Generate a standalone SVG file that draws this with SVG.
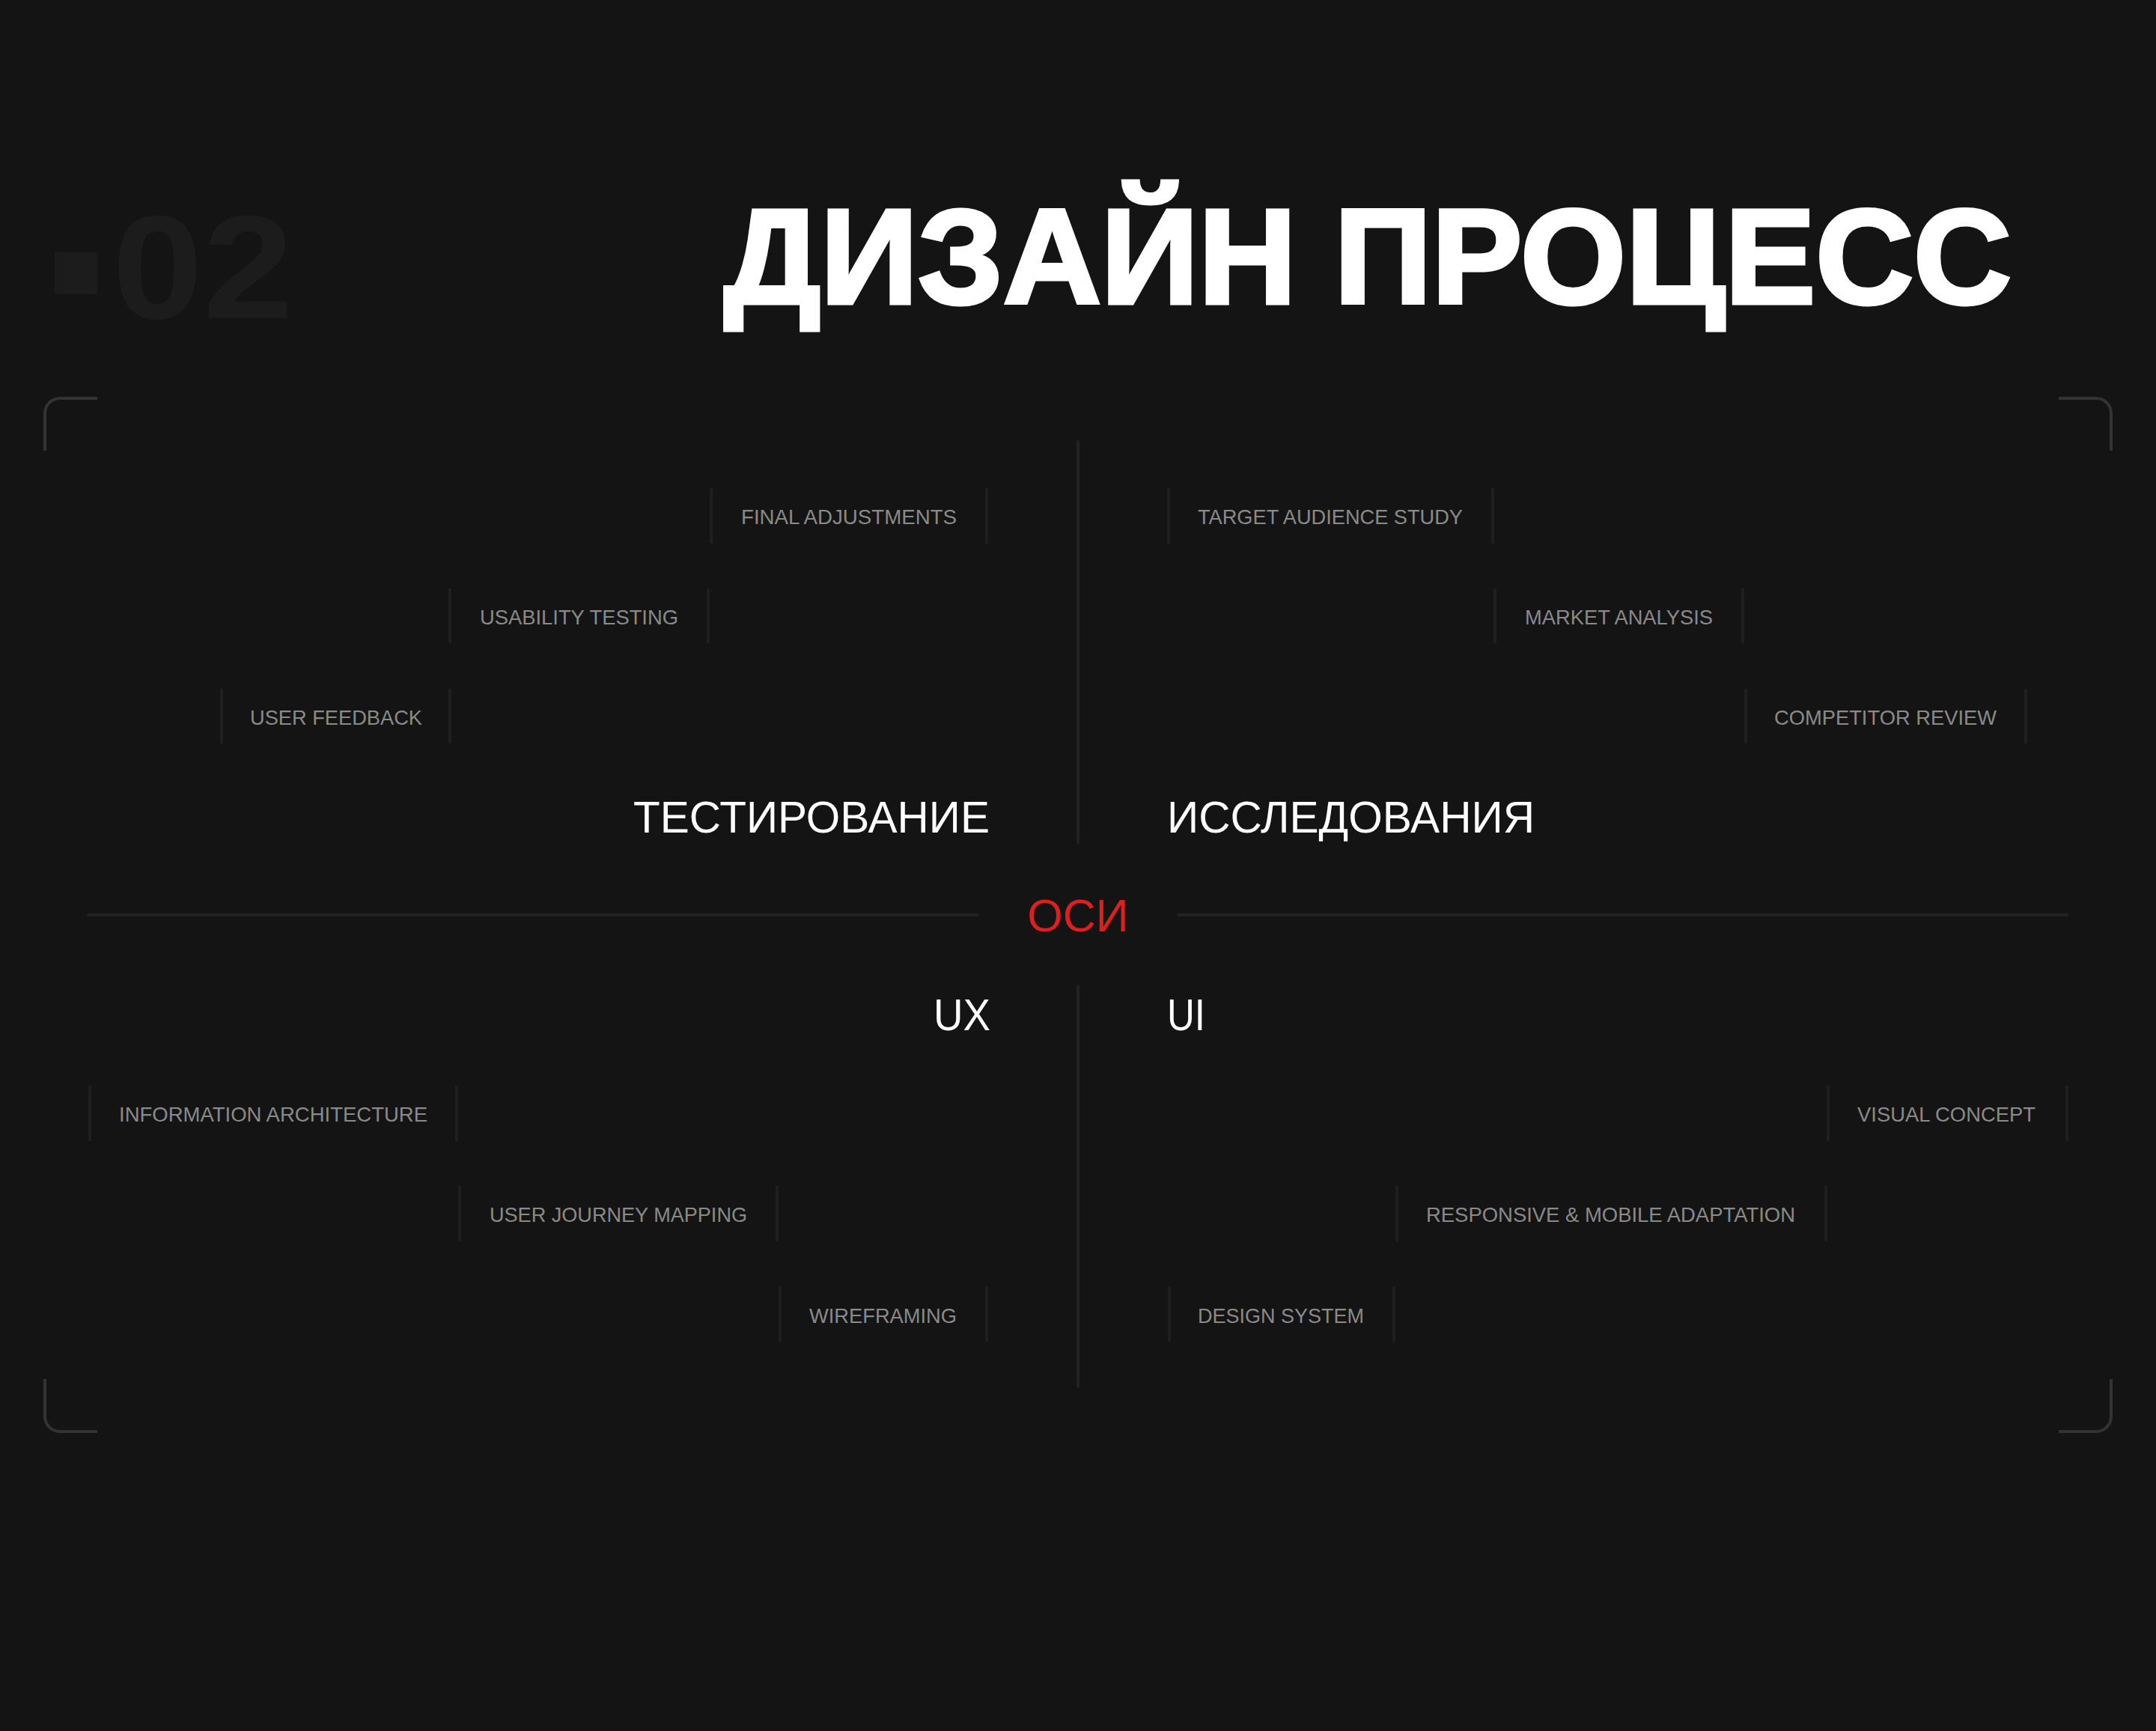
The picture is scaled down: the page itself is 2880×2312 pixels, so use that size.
<svg xmlns="http://www.w3.org/2000/svg" width="2880" height="2312" viewBox="0 0 2880 2312">
<defs>
<style>
.bg{fill:#141414}
.num{fill:#1c1c1c;font-family:"Liberation Sans",Arial,sans-serif;font-weight:700;font-size:197px}
.title{fill:#ffffff;stroke:#ffffff;stroke-width:5;stroke-linejoin:miter;font-family:"Liberation Sans",Arial,sans-serif;font-weight:700;font-size:180px}
.head{fill:#ffffff;font-family:"Liberation Sans",Arial,sans-serif;font-size:60px}
.axis{fill:#dc1f1f;font-family:"Liberation Sans",Arial,sans-serif;font-size:61px}
.tag{fill:#8a8a8a;font-family:"Liberation Sans",Arial,sans-serif;font-size:28.5px}
.sep{stroke:#1f1f1f;stroke-width:4;fill:none}
.bracket{stroke:#333333;stroke-width:4;fill:none}
.axisline{stroke:#222222;stroke-width:4;stroke-linecap:round;fill:none}
</style>
</defs>
<rect class="bg" x="0" y="0" width="2880" height="2312"/>

<g id="number">
<rect x="73" y="337" width="57" height="56" fill="#1c1c1c"/>
<text class="num" x="150" y="425" textLength="242" lengthAdjust="spacingAndGlyphs">02</text>
</g>

<g id="title">
<text class="title" x="967" y="405" textLength="1720" lengthAdjust="spacingAndGlyphs">ДИЗАЙН ПРОЦЕСС</text>
</g>

<g id="frame">
<path class="bracket" d="M60,602 V552 A20,20 0 0 1 80,532 H130"/>
<path class="bracket" d="M2750,532 H2800 A20,20 0 0 1 2820,552 V602"/>
<path class="bracket" d="M60,1842 V1892 A20,20 0 0 0 80,1912 H130"/>
<path class="bracket" d="M2750,1912 H2800 A20,20 0 0 0 2820,1892 V1842"/>
</g>

<g id="connectors">
<line class="axisline" x1="1440" y1="590" x2="1440" y2="1126"/>
<line class="axisline" x1="1440" y1="1318" x2="1440" y2="1852"/>
<line class="axisline" x1="118" y1="1222" x2="1306" y2="1222"/>
<line class="axisline" x1="1574" y1="1222" x2="2762" y2="1222"/>
</g>

<g id="axis-label">
<text class="axis" x="1440" y="1244" text-anchor="middle">ОСИ</text>
</g>

<g id="head-testing">
<text class="head" x="1322" y="1112" text-anchor="end" textLength="476" lengthAdjust="spacingAndGlyphs">ТЕСТИРОВАНИЕ</text>
</g>
<g id="head-research">
<text class="head" x="1559" y="1112" textLength="491" lengthAdjust="spacingAndGlyphs">ИССЛЕДОВАНИЯ</text>
</g>
<g id="head-ux">
<text class="head" x="1323" y="1376" text-anchor="end" textLength="76" lengthAdjust="spacingAndGlyphs">UX</text>
</g>
<g id="head-ui">
<text class="head" x="1559" y="1376" textLength="51" lengthAdjust="spacingAndGlyphs">UI</text>
</g>

<!-- upper left -->
<g id="tag-final-adjustments">
<line class="sep" x1="950" y1="652" x2="950" y2="726"/>
<line class="sep" x1="1318" y1="652" x2="1318" y2="726"/>
<text class="tag" x="990" y="700" textLength="288" lengthAdjust="spacingAndGlyphs">FINAL ADJUSTMENTS</text>
</g>
<g id="tag-usability-testing">
<line class="sep" x1="601" y1="786" x2="601" y2="859"/>
<line class="sep" x1="946" y1="786" x2="946" y2="859"/>
<text class="tag" x="641" y="834" textLength="265" lengthAdjust="spacingAndGlyphs">USABILITY TESTING</text>
</g>
<g id="tag-user-feedback">
<line class="sep" x1="296" y1="920" x2="296" y2="993"/>
<line class="sep" x1="601" y1="920" x2="601" y2="993"/>
<text class="tag" x="334" y="968" textLength="230" lengthAdjust="spacingAndGlyphs">USER FEEDBACK</text>
</g>

<!-- upper right -->
<g id="tag-target-audience">
<line class="sep" x1="1561" y1="652" x2="1561" y2="726"/>
<line class="sep" x1="1994" y1="652" x2="1994" y2="726"/>
<text class="tag" x="1600" y="700" textLength="354" lengthAdjust="spacingAndGlyphs">TARGET AUDIENCE STUDY</text>
</g>
<g id="tag-market-analysis">
<line class="sep" x1="1997" y1="786" x2="1997" y2="859"/>
<line class="sep" x1="2328" y1="786" x2="2328" y2="859"/>
<text class="tag" x="2037" y="834" textLength="251" lengthAdjust="spacingAndGlyphs">MARKET ANALYSIS</text>
</g>
<g id="tag-competitor-review">
<line class="sep" x1="2332" y1="920" x2="2332" y2="993"/>
<line class="sep" x1="2706" y1="920" x2="2706" y2="993"/>
<text class="tag" x="2370" y="968" textLength="297" lengthAdjust="spacingAndGlyphs">COMPETITOR REVIEW</text>
</g>

<!-- lower left -->
<g id="tag-information-architecture">
<line class="sep" x1="120" y1="1450" x2="120" y2="1524"/>
<line class="sep" x1="610" y1="1450" x2="610" y2="1524"/>
<text class="tag" x="159" y="1498" textLength="412" lengthAdjust="spacingAndGlyphs">INFORMATION ARCHITECTURE</text>
</g>
<g id="tag-user-journey">
<line class="sep" x1="614" y1="1584" x2="614" y2="1658"/>
<line class="sep" x1="1038" y1="1584" x2="1038" y2="1658"/>
<text class="tag" x="654" y="1632" textLength="344" lengthAdjust="spacingAndGlyphs">USER JOURNEY MAPPING</text>
</g>
<g id="tag-wireframing">
<line class="sep" x1="1042" y1="1718" x2="1042" y2="1792"/>
<line class="sep" x1="1318" y1="1718" x2="1318" y2="1792"/>
<text class="tag" x="1081" y="1767" textLength="197" lengthAdjust="spacingAndGlyphs">WIREFRAMING</text>
</g>

<!-- lower right -->
<g id="tag-visual-concept">
<line class="sep" x1="2442" y1="1450" x2="2442" y2="1524"/>
<line class="sep" x1="2761" y1="1450" x2="2761" y2="1524"/>
<text class="tag" x="2481" y="1498" textLength="238" lengthAdjust="spacingAndGlyphs">VISUAL CONCEPT</text>
</g>
<g id="tag-responsive">
<line class="sep" x1="1866" y1="1584" x2="1866" y2="1658"/>
<line class="sep" x1="2439" y1="1584" x2="2439" y2="1658"/>
<text class="tag" x="1905" y="1632" textLength="493" lengthAdjust="spacingAndGlyphs">RESPONSIVE &amp; MOBILE ADAPTATION</text>
</g>
<g id="tag-design-system">
<line class="sep" x1="1562" y1="1718" x2="1562" y2="1792"/>
<line class="sep" x1="1862" y1="1718" x2="1862" y2="1792"/>
<text class="tag" x="1600" y="1767" textLength="222" lengthAdjust="spacingAndGlyphs">DESIGN SYSTEM</text>
</g>
</svg>
